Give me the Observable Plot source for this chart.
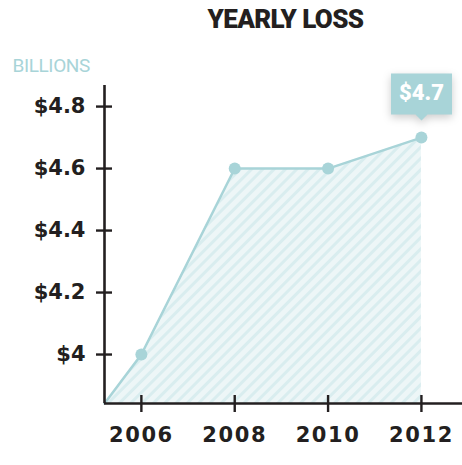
<!DOCTYPE html>
<html>
<head>
<meta charset="utf-8">
<script src="https://cdn.jsdelivr.net/npm/d3@7"></script>
<script src="https://cdn.jsdelivr.net/npm/@observablehq/plot@0.6"></script>
<style>
  body { margin: 0; background: #fff; }
  #chart { width: 462px; height: 465px; }
  g[aria-label="tip"] text { fill: #ffffff; }
  g[aria-label="x-axis tick label"] text { letter-spacing: 1.6px; }
  g.title-text text { letter-spacing: -0.6px; }
  g.unit-text text { letter-spacing: -0.4px; }
</style>
</head>
<body>
<div id="chart"></div>
<script>
// Data
const years = [2006, 2008, 2010, 2012];
const losses = [4.0, 4.6, 4.6, 4.7];
const originYear = 2005.21;   // area starts at the axis origin
const originLoss = 3.842;
const yTicks = [4.0, 4.2, 4.4, 4.6, 4.8];
const xTicks = [2006, 2008, 2010, 2012];
const title = "YEARLY LOSS";
const unitLabel = "BILLIONS";
const highlightLabel = "$4.7";

const series = [{year: originYear, loss: originLoss}]
  .concat(years.map((y, i) => ({year: y, loss: losses[i]})));
const points = years.map((y, i) => ({year: y, loss: losses[i]}));
const last = points[points.length - 1];

const teal = "#a8d4d8";
const ink = "#231f20";
const narrow = "'Roboto', sans-serif";
const bold = "'DejaVu Sans', 'Lato', sans-serif";

const chart = Plot.plot({
  width: 462,
  height: 465,
  marginLeft: 104,
  marginRight: 0,
  marginTop: 85,
  marginBottom: 62,
  style: {fontFamily: bold, color: ink, background: "#fff", overflow: "visible"},
  x: {domain: [originYear, 2012.88], label: null},
  y: {domain: [originLoss, 4.868], label: null},
  marks: [
    Plot.areaY(series, {x: "year", y1: originLoss, y2: "loss", fill: "url(#hatch)"}),
    Plot.lineY(series, {x: "year", y: "loss", stroke: teal, strokeWidth: 2.5}),
    Plot.dot(points, {x: "year", y: "loss", r: 6, fill: teal}),
    // axis lines
    Plot.ruleX([originYear], {stroke: ink, strokeWidth: 2.6}),
    Plot.ruleY([originLoss], {stroke: ink, strokeWidth: 2.6, x1: originYear, x2: 2012.88}),
    Plot.axisY(yTicks, {
      label: null,
      tickSize: 16, dx: 8, tickPadding: 11, strokeWidth: 2.4, stroke: ink,
      tickFormat: d => "$" + (d === 4 ? "4" : d3.format(".1f")(d)),
      fontSize: 21, fontWeight: "bold", fill: ink
    }),
    Plot.axisX(xTicks, {
      label: null,
      tickSize: 17, dy: -8, tickPadding: 15, strokeWidth: 2.4, stroke: ink,
      tickFormat: d => String(d),
      fontSize: 21, fontWeight: "bold", fill: ink
    }),
    Plot.tip([last], {
      x: "year", y: "loss", title: () => highlightLabel,
      anchor: "bottom", dy: -17, fill: teal, stroke: "none",
      fontSize: 22, fontWeight: "900", fontFamily: narrow,
      textPadding: 8, pointerSize: 12, lineHeight: 1
    }),
    Plot.text([title], {
      className: "title-text",
      frameAnchor: "top-left", dx: 181, dy: -58, textAnchor: "middle", lineAnchor: "bottom",
      fontSize: 26, fontWeight: "900", fontFamily: narrow, fill: ink
    }),
    Plot.text([unitLabel], {
      className: "unit-text",
      frameAnchor: "top-left", dx: -92, dy: -14, textAnchor: "start", lineAnchor: "bottom",
      fontSize: 19, fontFamily: narrow, fill: teal
    })
  ]
});

// hatch pattern
const ns = "http://www.w3.org/2000/svg";
const defs = document.createElementNS(ns, "defs");
defs.innerHTML = `
  <pattern id="hatch" patternUnits="userSpaceOnUse" width="8" height="8" patternTransform="rotate(45)">
    <rect width="8" height="8" fill="#edf6f7"></rect>
    <rect width="3" height="8" fill="#d9edef"></rect>
  </pattern>`;
chart.insertBefore(defs, chart.firstChild);

document.getElementById("chart").appendChild(chart);
</script>
</body>
</html>
